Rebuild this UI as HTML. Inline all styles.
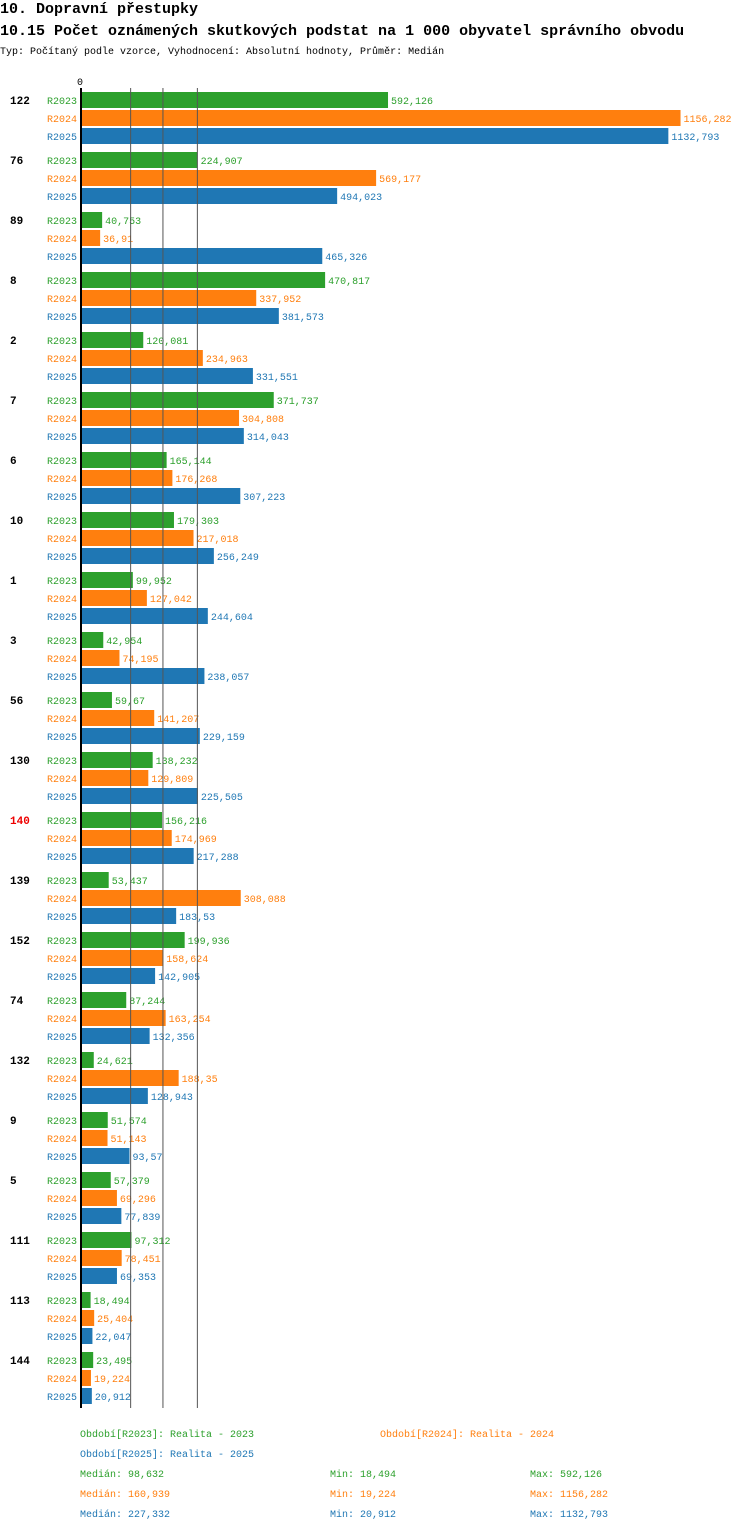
<!DOCTYPE html>
<html><head><meta charset="utf-8"><style>
body{margin:0;background:#fff;width:750px;height:1532px;overflow:hidden;font-family:"Liberation Mono",monospace}
svg text{font-family:"Liberation Mono",monospace}
</style></head><body>
<svg id="c" width="750" height="1532" xmlns="http://www.w3.org/2000/svg">
<text x="0" y="13" font-size="15" font-weight="bold">10. Dopravní přestupky</text>
<text x="0" y="35" font-size="15" font-weight="bold">10.15 Počet oznámených skutkových podstat na 1 000 obyvatel správního obvodu</text>
<text x="0" y="54" font-size="10">Typ: Počítaný podle vzorce, Vyhodnocení: Absolutní hodnoty, Průměr: Medián</text>
<text x="80" y="85" font-size="10" text-anchor="middle">0</text>
<g id="g"></g>
</svg>
<script>
const categories=["122","76","89","8","2","7","6","10","1","3","56","130","140","139","152","74","132","9","5","111","113","144"];
const r2023=[592.126,224.907,40.753,470.817,120.081,371.737,165.144,179.303,99.952,42.954,59.67,138.232,156.216,53.437,199.936,87.244,24.621,51.574,57.379,97.312,18.494,23.495];
const r2024=[1156.282,569.177,36.91,337.952,234.963,304.808,176.268,217.018,127.042,74.195,141.207,129.809,174.969,308.088,158.624,163.254,188.35,51.143,69.296,78.451,25.404,19.224];
const r2025=[1132.793,494.023,465.326,381.573,331.551,314.043,307.223,256.249,244.604,238.057,229.159,225.505,217.288,183.53,142.905,132.356,128.943,93.57,77.839,69.353,22.047,20.912];
const seriesNames=["R2023","R2024","R2025"];
const medians=[98.632,160.939,227.332];
const mins=[18.494,19.224,20.912];
const maxs=[592.126,1156.282,1132.793];
const highlight="140";
const colors=["#2ca02c","#ff7f0e","#1f77b4"];
const NS="http://www.w3.org/2000/svg";
const g=document.getElementById('g');
const x0=81,k=0.5185;
const xs=v=>x0+v*k;
const fmt=v=>String(v).replace('.',',');
function mk(t,a,txt){const e=document.createElementNS(NS,t);for(const n in a)e.setAttribute(n,a[n]);if(txt!==undefined)e.textContent=txt;g.appendChild(e);return e;}
const series=[r2023,r2024,r2025];
const top0=92,gh=60,bh=16,step=18;
const bottom=top0+categories.length*gh-4;
categories.forEach((c,i)=>{
  const y=top0+i*gh;
  const l=mk('text',{x:10,y:y+12,'font-size':11,'font-weight':'bold',fill:c===highlight?'#e00':'#000'},c);
  
  
  series.forEach((s,j)=>{
    const yy=y+j*step;
    const t=mk('text',{x:77,y:yy+12,'font-size':10,fill:colors[j],'text-anchor':'end'},seriesNames[j]);
    
    
    const r=mk('rect',{x:x0,y:yy,width:Math.max(0,xs(s[i])-x0),height:bh,fill:colors[j]});
    
    
    const v=mk('text',{x:xs(s[i])+3,y:yy+12,'font-size':10,fill:colors[j]},fmt(s[i]));
    
    
  });
});
medians.forEach((m,j)=>{
  const ln=mk('line',{x1:xs(m)-1.5,x2:xs(m)-1.5,y1:88,y2:bottom,stroke:'#555','stroke-width':1});
  
  
});
const ax=mk('line',{x1:81,x2:81,y1:88,y2:bottom,stroke:'#000','stroke-width':2});


const ly=bottom+29;
const leg=[[80,ly,"Období[R2023]: Realita - 2023",0],[380,ly,"Období[R2024]: Realita - 2024",1],[80,ly+20,"Období[R2025]: Realita - 2025",2]];
leg.forEach(a=>{const t=mk('text',{x:a[0],y:a[1],'font-size':10,fill:colors[a[3]]},a[2]);
  
  });
[0,1,2].forEach(j=>{const y=ly+40+j*20;
  const a=mk('text',{x:80,y:y,'font-size':10,fill:colors[j]},'Medián: '+fmt(medians[j]));
  
  
  const b=mk('text',{x:330,y:y,'font-size':10,fill:colors[j]},'Min: '+fmt(mins[j]));
  
  
  const d=mk('text',{x:530,y:y,'font-size':10,fill:colors[j]},'Max: '+fmt(maxs[j]));
  
  
});
</script>
</body></html>
